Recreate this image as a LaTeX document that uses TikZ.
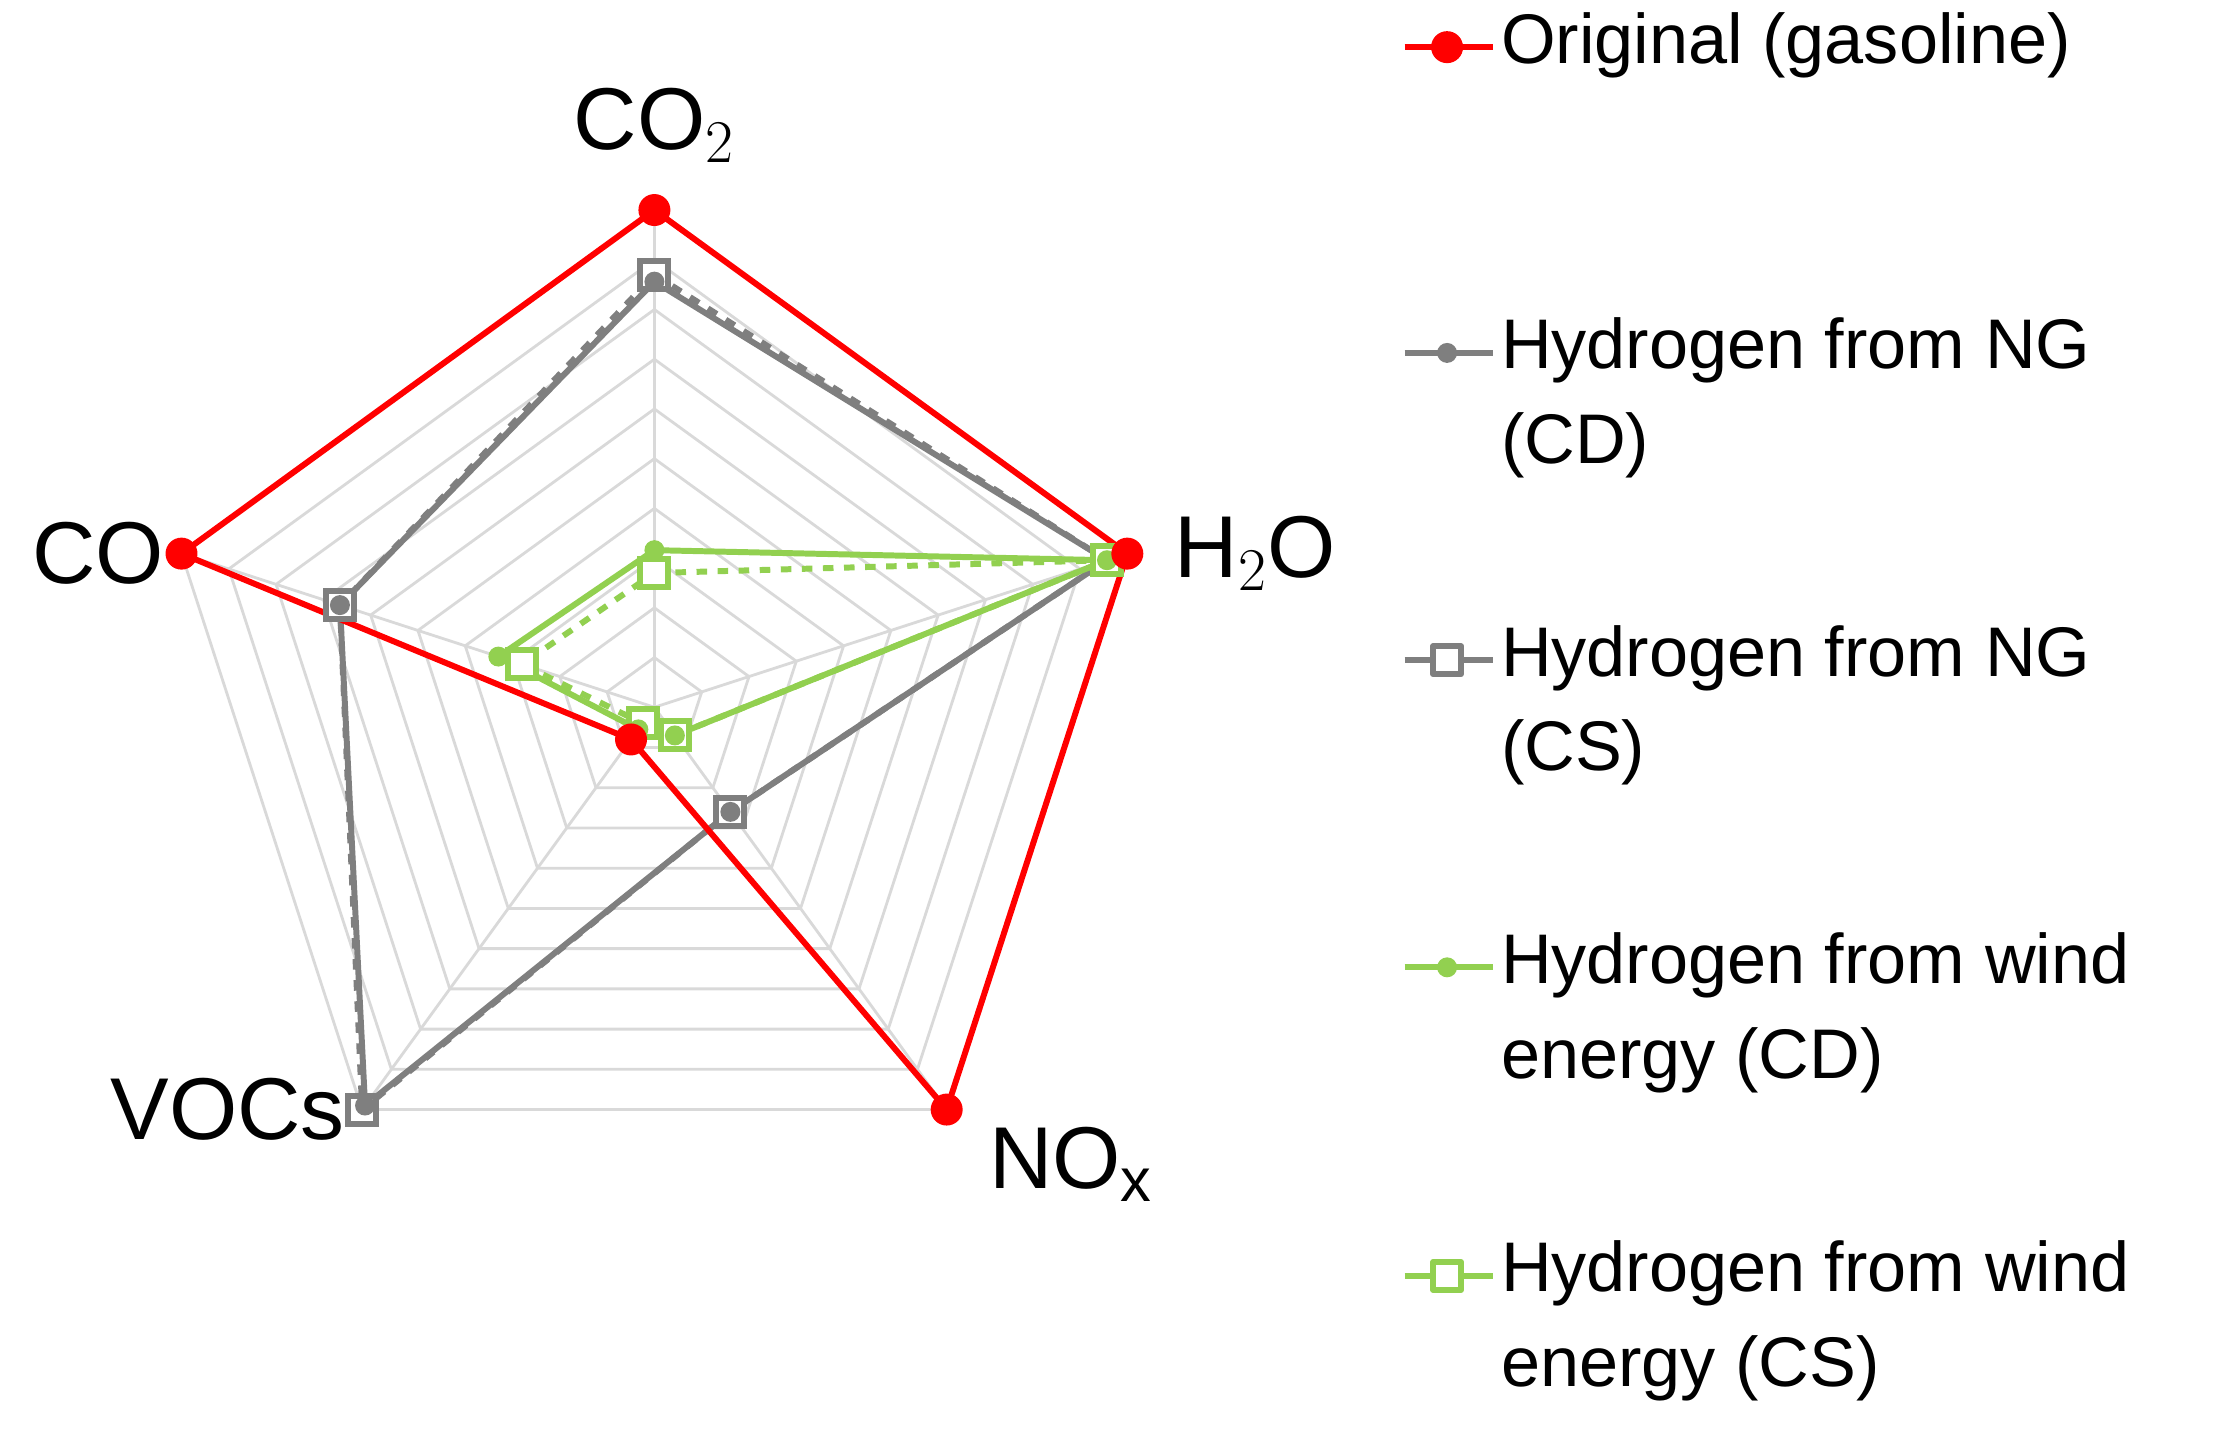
\documentclass[tikz,border=0pt]{standalone}
\usepackage{fontspec}
\setmainfont{Liberation Sans}
\usepackage{tikz}
\usetikzlibrary{positioning}
\definecolor{seriesred}{HTML}{FF0000}
\definecolor{seriesgrey}{HTML}{7F7F7F}
\definecolor{seriesgreen}{HTML}{92D050}
\definecolor{gridgrey}{HTML}{D9D9D9}
\tikzset{
  gridline/.style={draw=gridgrey, line width=0.8pt},
  redline/.style={draw=seriesred, line width=1.7pt, line join=round},
  greyline/.style={draw=seriesgrey, line width=1.7pt, line join=round},
  greenline/.style={draw=seriesgreen, line width=1.7pt, line join=round},
  bigdot/.style={circle, fill=#1, inner sep=0pt, minimum size=0.32cm},
  smalldot/.style={circle, fill=#1, inner sep=0pt, minimum size=0.2cm},
  sqmark/.style={rectangle, draw=#1, fill=white, line width=1.7pt, inner sep=0pt, minimum size=0.28cm},
  axislabel/.style={font=\fontsize{25}{30}\selectfont},
  legendtext/.style={font=\fontsize{20}{27}\selectfont, align=left, anchor=north west, inner sep=0pt}
}
% named radar points: prefix, five values
\newcommand\radarpts[6]{
  \coordinate (#1a) at (90:#2*348);
  \coordinate (#1b) at (18:#3*348);
  \coordinate (#1c) at (-54:#4*348);
  \coordinate (#1d) at (-126:#5*348);
  \coordinate (#1e) at (162:#6*348);
}
\begin{document}
\begin{tikzpicture}[x=0.01429cm, y=0.01429cm]
\useasboundingbox (0,0) rectangle (1560,-1000);

\begin{scope}[shift={(458,-495)}]
% grid
\foreach \k in {1,...,10}
  \draw[gridline] (90:\k*34.8) -- (18:\k*34.8) -- (-54:\k*34.8) -- (-126:\k*34.8) -- (162:\k*34.8) -- cycle;
\foreach \a in {90,18,-54,-126,162}
  \draw[gridline] (0,0) -- (\a:348);

% axis labels
\node[axislabel] (lco2) at (90:348) [above=0.35cm] {CO$_2$};
\node[axislabel, anchor=west] (lh2o) at (18:348) [xshift=0.35cm] {H$_2$O};
\node[axislabel, anchor=north west] (lnox) at (-54:348) [xshift=0.3cm, yshift=-0.05cm] {NO$_\mathrm{x}$};
\node[axislabel, anchor=east] (lvoc) at (-126:348) [xshift=-0.05cm] {VOCs};
\node[axislabel, anchor=east] (lco) at (162:348) [xshift=-0.05cm] {CO};

% data
\radarpts{r}{1}{1}{1}{0.08}{1}
\radarpts{gd}{0.856}{0.957}{0.26}{0.99}{0.665}
\radarpts{gs}{0.87}{0.957}{0.26}{1.0}{0.665}
\radarpts{wd}{0.316}{0.957}{0.07}{0.055}{0.33}
\radarpts{ws}{0.27}{0.957}{0.07}{0.04}{0.28}

\draw[greyline, dashed] (gsa) -- (gsb) -- (gsc) -- (gsd) -- (gse) -- cycle;
\draw[greyline] (gda) -- (gdb) -- (gdc) -- (gdd) -- (gde) -- cycle;
\draw[greenline, dashed] (wsa) -- (wsb) -- (wsc) -- (wsd) -- (wse) -- cycle;
\draw[greenline] (wda) -- (wdb) -- (wdc) -- (wdd) -- (wde) -- cycle;
\draw[redline] (ra) -- (rb) -- (rc) -- (rd) -- (re) -- cycle;

\foreach \p in {a,b,c,d,e} {
  \node[sqmark=seriesgrey] at (gs\p) {};
  \node[smalldot=seriesgrey] at (gd\p) {};
  \node[sqmark=seriesgreen] at (ws\p) {};
  \node[smalldot=seriesgreen] at (wd\p) {};
  \node[bigdot=seriesred] at (r\p) {};
}
\end{scope}

% legend
\coordinate (k1) at (983,-33);
\coordinate (k2) at (983,-247);
\coordinate (k3) at (983,-462);
\coordinate (k4) at (983,-677);
\coordinate (k5) at (983,-893);
\draw[redline] (k1) -- ++(62,0) node[pos=0.48, bigdot=seriesred] (m1) {};
\draw[greyline] (k2) -- ++(62,0) node[pos=0.48, smalldot=seriesgrey] (m2) {};
\draw[greyline] (k3) -- ++(62,0) node[pos=0.48, sqmark=seriesgrey] (m3) {};
\draw[greenline] (k4) -- ++(62,0) node[pos=0.48, smalldot=seriesgreen] (m4) {};
\draw[greenline] (k5) -- ++(62,0) node[pos=0.48, sqmark=seriesgreen] (m5) {};
\node[legendtext] (t1) at (1050,-33+25) {Original (gasoline)};
\node[legendtext] (t2) at (1050,-247+25) {Hydrogen from NG\\(CD)};
\node[legendtext] (t3) at (1050,-462+25) {Hydrogen from NG\\(CS)};
\node[legendtext] (t4) at (1050,-677+25) {Hydrogen from wind\\energy (CD)};
\node[legendtext] (t5) at (1050,-893+25) {Hydrogen from wind\\energy (CS)};
\end{tikzpicture}
\end{document}
